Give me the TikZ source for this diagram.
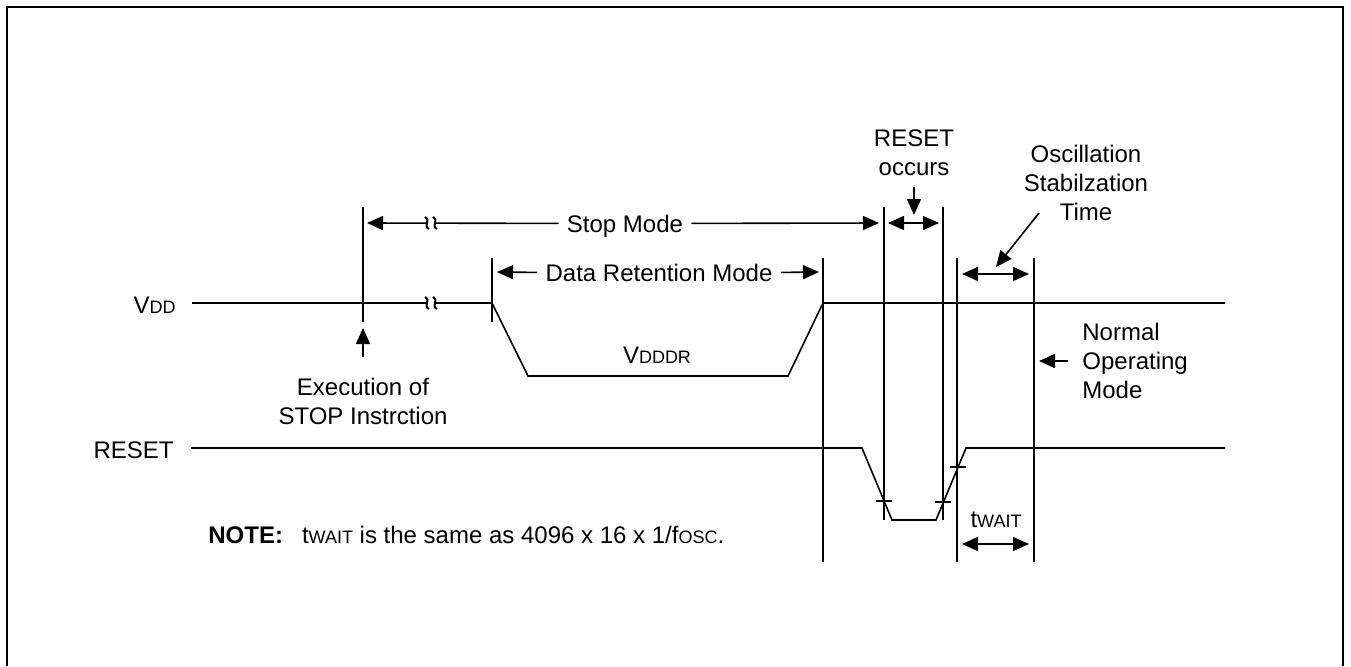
\documentclass[tikz,border=0pt]{standalone}
\usepackage{fontspec}
\setmainfont{Liberation Sans}
\usetikzlibrary{arrows.meta,positioning}

% small capitals used in the subscripts
\newcommand{\sml}[1]{{\fontsize{9}{10}\selectfont #1}}

\begin{document}
\begin{tikzpicture}[x=0.5pt,y=-0.5pt,
    sig/.style={line width=0.8pt},
    tip/.style={line width=0.8pt,-{Triangle[length=8pt,width=7pt]}},
    both/.style={line width=0.8pt,{Triangle[length=8pt,width=7pt]}-{Triangle[length=8pt,width=7pt]}},
    lbl/.style={inner sep=0pt,font=\fontsize{12}{14.5}\selectfont,align=center},
    brk/.pic={
        \fill[white] (-4,-4) rectangle (4,4);
        \foreach \d in {-4,4}
            \draw[line width=1pt] (\d-2,-6) .. controls (\d+4.5,-2.5) and (\d-4.5,2.5) .. (\d+2,6);
    }]
    \useasboundingbox (0,0) rectangle (1351,666);

    % Frame
    \draw[line width=1pt] (7,666) -- (7,7) -- (1343,7) -- (1343,666);

    % Signal names
    \node[lbl,anchor=base east] (vdd) at (176,313) {V\sml{DD}};
    \node[lbl,anchor=base east] (rst) at (174,458) {RESET};

    % Waveforms
    \draw[sig] (192,303) -- (492,303) -- (528,376) -- (788,376) -- (823,303) -- (1225,303);
    \draw[sig] (191,448) -- (862,448) -- (892,520) -- (936,520) -- (966,448) -- (1225,448);

    % Marker lines
    \foreach \x/\a/\b in {363/207/322, 492/258/322, 823/258/562, 884/207/520,
                          943/207/520, 957/258/562, 1034/258/562}
        \draw[sig] (\x,\a) -- (\x,\b);

    % Ticks on the RESET edges
    \foreach \x/\y in {884/501, 943/502, 958/467}
        \draw[sig] (\x-8,\y) -- (\x+8,\y);

    % Stop Mode
    \node[lbl,anchor=base] (stop) at (625,232) {Stop Mode};
    \draw[tip] ([xshift=-4pt,yshift=4.3pt]stop.base west) -- (367,223);
    \draw[tip] ([xshift=4pt,yshift=4.3pt]stop.base east) -- (879,223);

    % Data Retention Mode
    \node[lbl,anchor=base] (drm) at (659,281) {Data Retention Mode};
    \draw[tip] ([xshift=-4pt,yshift=4.3pt]drm.base west) -- (497,272);
    \draw[tip] ([xshift=4pt,yshift=4.3pt]drm.base east) -- (819,272);

    % Breaks
    \pic at (431,303) {brk};
    \pic at (431,223) {brk};

    % RESET occurs
    \node[lbl] (rocc) at (914,153) {RESET\\occurs};
    \draw[tip] (914,187) -- (914,215);
    \draw[both] (888,223) -- (939,223);

    % Oscillation Stabilzation Time
    \node[lbl] (osc) at (1086,183) {Oscillation\\Stabilzation\\Time};
    \draw[tip] (1039,213) -- (996,267);
    \draw[both] (962,274) -- (1029,274);

    % Normal Operating Mode
    \node[lbl,anchor=west,align=left] (nom) at (1082,361) {Normal\\Operating\\Mode};
    \draw[tip] ([xshift=-7pt]nom.west) -- (1039,361);

    % Execution of STOP
    \node[lbl] (exe) at (363,401) {Execution of\\STOP Instrction};
    \draw[tip] ([yshift=10pt]exe.north) -- (363,328);

    % Levels and times
    \node[lbl,anchor=base] (vdr) at (657,363) {V\sml{DDDR}};
    \node[lbl,anchor=base] (tw) at (996,527) {t\sml{WAIT}};
    \draw[both] (962,544) -- (1029,544);

    % Note
    \node[lbl,anchor=base west] (note) at (208,543)
        {\textbf{NOTE:}\hspace{9.5pt}t\sml{WAIT} is the same as 4096 x 16 x 1/f\sml{OSC}.};
\end{tikzpicture}
\end{document}
